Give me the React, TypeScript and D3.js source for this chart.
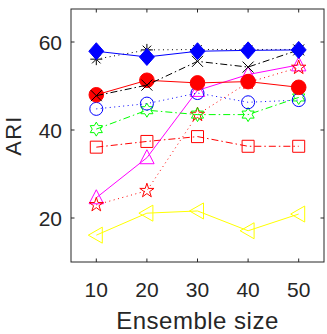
import React from "react";
import * as d3 from "d3";

const ensembleSizes = [10, 20, 30, 40, 50];
const yTicks = [20, 40, 60];

const diamondSeries = [57.9, 56.6, 57.9, 58.1, 58.2];
const asteriskSeries = [56.1, 58.2, 58.3, 58.3, 58.3];
const crossSeries = [47.8, 50.2, 55.6, 54.3, 58.2];
const redCircleSeries = [48.0, 51.3, 50.7, 51.0, 49.7];
const blueCircleSeries = [44.8, 46.0, 48.4, 46.3, 46.8];
const hexagramSeries = [40.2, 44.5, 43.5, 43.5, 47.4];
const squareSeries = [36.1, 37.4, 38.5, 36.3, 36.3];
const triangleSeries = [24.6, 33.7, 49.0, 52.6, 54.8];
const pentagramSeries = [23.0, 26.2, 43.5, 50.8, 54.2];
const leftTriangleSeries = [16.1, 21.1, 21.6, 17.1, 20.9];

type Marker = "diamond" | "asterisk" | "x" | "circle" | "square" | "triangle" | "left" | "pentagram" | "hexagram";

interface Series {
  values: number[];
  color: string;
  dash: string | null;
  marker: Marker;
  filled: boolean;
  size: number;
}

// drawing order: first drawn = bottom
const seriesList: Series[] = [
  { values: leftTriangleSeries, color: "#FFFF00", dash: null, marker: "left", filled: false, size: 8 },
  { values: triangleSeries, color: "#FF00FF", dash: null, marker: "triangle", filled: false, size: 8 },
  { values: pentagramSeries, color: "#FF0000", dash: "1 3.5", marker: "pentagram", filled: false, size: 7.5 },
  { values: squareSeries, color: "#FF0000", dash: "7 3 1.5 3", marker: "square", filled: false, size: 6 },
  { values: hexagramSeries, color: "#00FF00", dash: "7 3 1.5 3", marker: "hexagram", filled: false, size: 7 },
  { values: blueCircleSeries, color: "#0000FF", dash: "1 3.5", marker: "circle", filled: false, size: 6.5 },
  { values: redCircleSeries, color: "#FF0000", dash: null, marker: "circle", filled: true, size: 7.3 },
  { values: crossSeries, color: "#000000", dash: "7 3 1.5 3", marker: "x", filled: false, size: 5.5 },
  { values: asteriskSeries, color: "#000000", dash: "1 3.5", marker: "asterisk", filled: false, size: 6 },
  { values: diamondSeries, color: "#0000FF", dash: null, marker: "diamond", filled: true, size: 8.5 },
];

function starPath(points: number, rOuter: number, rInner: number): string {
  const pts: string[] = [];
  for (let i = 0; i < points * 2; i++) {
    const r = i % 2 === 0 ? rOuter : rInner;
    const a = -Math.PI / 2 + (i * Math.PI) / points;
    pts.push(`${(r * Math.cos(a)).toFixed(2)},${(r * Math.sin(a)).toFixed(2)}`);
  }
  return "M" + pts.join("L") + "Z";
}

function markerPath(m: Marker, s: number): string {
  switch (m) {
    case "diamond":
      return `M0,${-s}L${s * 0.88},0L0,${s}L${-s * 0.88},0Z`;
    case "square":
      return `M${-s},${-s}L${s},${-s}L${s},${s}L${-s},${s}Z`;
    case "circle":
      return `M${s},0A${s},${s},0,1,1,${-s},0A${s},${s},0,1,1,${s},0Z`;
    case "triangle":
      return `M0,${-s}L${s * 0.9},${s * 0.75}L${-s * 0.9},${s * 0.75}Z`;
    case "left":
      return `M${-s},0L${s * 0.75},${-s}L${s * 0.75},${s}Z`;
    case "pentagram":
      return starPath(5, s, s * 0.38);
    case "hexagram":
      return starPath(6, s, s * 0.58);
    case "x":
      return `M${-s},${-s}L${s},${s}M${-s},${s}L${s},${-s}`;
    case "asterisk": {
      const d = s * 0.707;
      return `M0,${-s}L0,${s}M${-s},0L${s},0M${-d},${-d}L${d},${d}M${-d},${d}L${d},${-d}`;
    }
  }
  return "";
}

const W = 327;
const H = 334;
const plotLeft = 71;
const plotRight = 324;
const plotTop = 9;
const plotBottom = 262;
const axisColor = "#262626";
const fontFamily = "'Liberation Sans', Arial, Helvetica, sans-serif";

export default function App() {
  const x = d3.scaleLinear().domain([5, 55]).range([plotLeft, plotRight]);
  const y = d3.scaleLinear().domain([10, 67.5]).range([plotBottom, plotTop]);
  const line = d3
    .line<number>()
    .x((_, i) => x(ensembleSizes[i]))
    .y((d) => y(d));
  const tickLen = 3.5;

  return (
    <svg
      width={W}
      height={H}
      style={{ position: "absolute", left: 0, top: 0, background: "#fff" }}
    >
      <rect x={0} y={0} width={W} height={H} fill="#fff" />
      {seriesList.map((s, si) => (
        <g key={si}>
          <path
            d={line(s.values) || ""}
            fill="none"
            stroke={s.color}
            strokeWidth={1}
            strokeDasharray={s.dash || undefined}
          />
          {s.values.map((v, i) => (
            <path
              key={i}
              transform={`translate(${x(ensembleSizes[i])},${y(v)})`}
              d={markerPath(s.marker, s.size)}
              fill={s.filled ? s.color : "none"}
              stroke={s.color}
              strokeWidth={1}
            />
          ))}
        </g>
      ))}
      {/* axes box */}
      <rect
        x={plotLeft}
        y={plotTop}
        width={plotRight - plotLeft}
        height={plotBottom - plotTop}
        fill="none"
        stroke={axisColor}
        strokeWidth={1}
      />
      {ensembleSizes.map((t) => (
        <g key={"xt" + t}>
          <line x1={x(t)} x2={x(t)} y1={plotBottom} y2={plotBottom - tickLen} stroke={axisColor} />
          <line x1={x(t)} x2={x(t)} y1={plotTop} y2={plotTop + tickLen} stroke={axisColor} />
          <text
            x={x(t)}
            y={296.5}
            textAnchor="middle"
            fontSize={21}
            fontFamily={fontFamily}
            fill={axisColor}
          >
            {t}
          </text>
        </g>
      ))}
      {yTicks.map((t) => (
        <g key={"yt" + t}>
          <line x1={plotLeft} x2={plotLeft + tickLen} y1={y(t)} y2={y(t)} stroke={axisColor} />
          <line x1={plotRight} x2={plotRight - tickLen} y1={y(t)} y2={y(t)} stroke={axisColor} />
          <text
            x={62}
            y={y(t) + 7.5}
            textAnchor="end"
            fontSize={21}
            fontFamily={fontFamily}
            fill={axisColor}
          >
            {t}
          </text>
        </g>
      ))}
      <text
        x={(plotLeft + plotRight) / 2}
        y={329}
        textAnchor="middle"
        fontSize={24}
        letterSpacing={0.5}
        fontFamily={fontFamily}
        fill={axisColor}
      >
        Ensemble size
      </text>
      <text
        transform={`translate(20.5,${(plotTop + plotBottom) / 2}) rotate(-90)`}
        textAnchor="middle"
        fontSize={22}
        letterSpacing={1.2}
        fontFamily={fontFamily}
        fill={axisColor}
      >
        ARI
      </text>
    </svg>
  );
}
